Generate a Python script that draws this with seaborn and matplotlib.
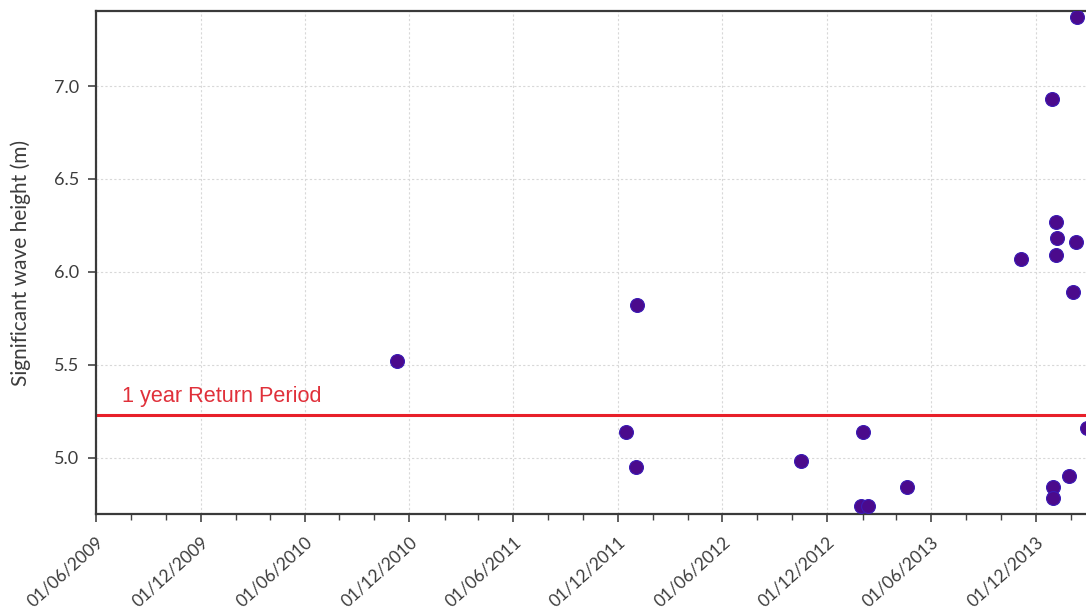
import matplotlib
matplotlib.use("Agg")
import matplotlib.pyplot as plt
import matplotlib.dates as mdates
import seaborn as sns
import pandas as pd

dates = ["2010-11-10", "2011-12-16", "2012-01-04", "2012-01-02", "2012-10-17",
         "2013-02-01", "2013-01-29", "2013-02-10", "2013-04-19", "2013-11-05",
         "2013-12-29", "2014-01-05", "2014-01-08", "2014-01-05", "2014-02-09",
         "2014-02-04", "2014-02-12", "2014-02-28", "2014-01-01", "2014-01-01",
         "2014-01-28"]
heights = [5.52, 5.14, 5.82, 4.95, 4.98,
           5.14, 4.74, 4.74, 4.84, 6.07,
           6.93, 6.27, 6.18, 6.09, 6.16,
           5.89, 7.37, 5.16, 4.84, 4.78,
           4.90]
return_period_value = 5.23
return_period_label = "1 year Return Period"
y_ticks = [5.0, 5.5, 6.0, 6.5, 7.0]
y_label = "Significant wave height (m)"

df = pd.DataFrame({"date": pd.to_datetime(dates), "hs": heights})

sns.set_style("white")
plt.rcParams["font.family"] = ["Lato", "DejaVu Sans"]

fig = plt.figure(figsize=(10.86, 6.10), dpi=100)
ax = fig.add_axes([96 / 1086, 1 - 514 / 610, 1 - 96 / 1086, (514 - 11) / 610])

ax.axhline(return_period_value, color="#e8202a", lw=2.2, zorder=2)
sns.scatterplot(data=df, x="date", y="hs", ax=ax, s=100, color="#4b0a8c",
                edgecolor="#3b1bb5", linewidth=0.8, zorder=3, clip_on=True)

ax.text(pd.Timestamp("2009-07-17"), 5.33, return_period_label, color="#e0303a",
        fontsize=15.6, family=["Liberation Sans", "DejaVu Sans"], va="center", ha="left")

ax.set_xlim(pd.Timestamp("2009-06-01"), pd.Timestamp("2014-02-27"))
ax.set_ylim(4.696, 7.404)
ax.set_yticks(y_ticks)
ax.set_yticklabels([f"{v:.1f}" for v in y_ticks])

ax.xaxis.set_major_locator(mdates.MonthLocator(bymonth=[6, 12], bymonthday=1))
ax.xaxis.set_minor_locator(mdates.MonthLocator(bymonth=[2, 4, 8, 10], bymonthday=1))
ax.xaxis.set_major_formatter(mdates.DateFormatter("%d/%m/%Y"))

for lab in ax.get_xticklabels():
    lab.set_rotation(42)
    lab.set_ha("right")
    lab.set_rotation_mode("anchor")

ax.tick_params(axis="x", which="major", direction="out", length=6, width=1.2,
               color="#444444", labelsize=12.5, labelcolor="#3c3c3c", bottom=True, pad=8)
ax.tick_params(axis="x", which="minor", direction="out", length=4, width=1.0,
               color="#444444", bottom=True)
ax.tick_params(axis="y", which="major", direction="out", length=6, width=1.2,
               color="#444444", labelsize=13, labelcolor="#3c3c3c", left=True, pad=6)

ax.grid(True, which="major", axis="both", color="#d8d8d8", lw=0.8, ls=(0, (2, 2)))
ax.set_axisbelow(True)

for side in ["left", "bottom", "top"]:
    ax.spines[side].set_visible(True)
    ax.spines[side].set_color("#3a3a3a")
    ax.spines[side].set_linewidth(1.6)
ax.spines["right"].set_visible(False)

ax.set_xlabel("")
ax.set_ylabel(y_label, fontsize=15, color="#3c3c3c")
ax.yaxis.set_label_coords(-0.066, 0.5)

fig.savefig("out.png", dpi=100)
